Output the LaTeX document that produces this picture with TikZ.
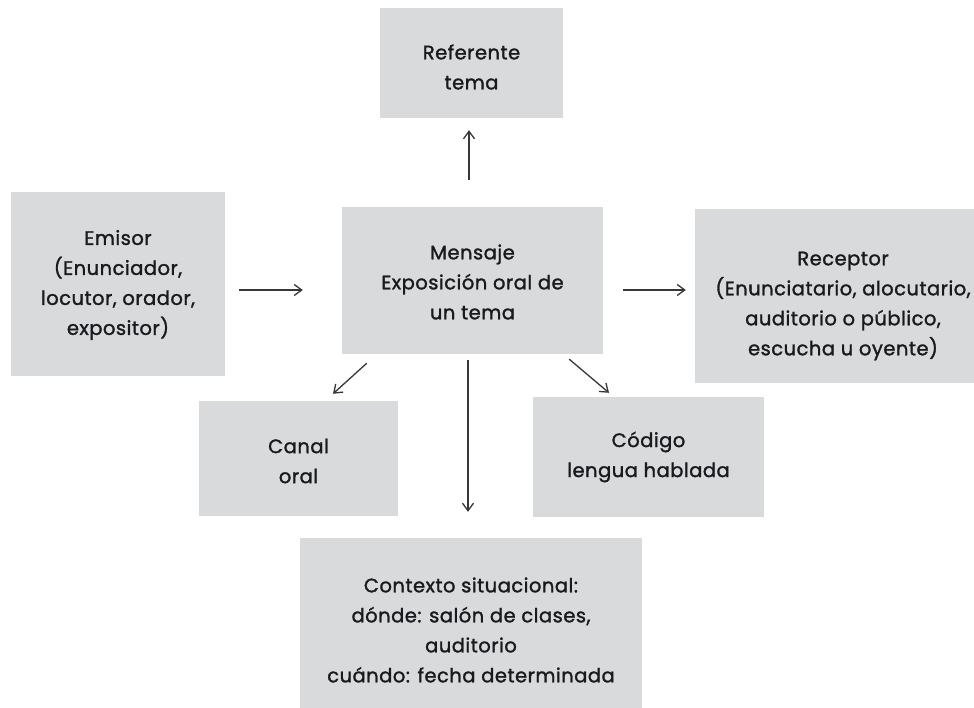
\documentclass[tikz,border=0pt]{standalone}
\usepackage{fontspec}
\setmainfont{Poppins}
\newfontfamily\boxfont{Poppins}[FakeBold=1.4,LetterSpace=2.5]
\usetikzlibrary{arrows.meta,calc}
\definecolor{boxgray}{RGB}{217,218,220}
\definecolor{txt}{RGB}{25,25,30}
\definecolor{arrgray}{RGB}{55,55,55}
\begin{document}
\begin{tikzpicture}[x=1pt,y=-1pt,
  box/.style={fill=boxgray,draw=none,inner sep=0pt},
  lbl/.style={align=center,text=txt,inner sep=0pt,
    font=\boxfont\fontsize{19.5}{30}\selectfont},
  arr/.style={draw=arrgray,line width=1.3pt,-{Straight Barb[length=7.5pt,width=11pt,line width=1.3pt]}}]
\useasboundingbox (0,0) rectangle (974,708);
\clip (0,0) rectangle (974,708);
\fill[white] (0,0) rectangle (974,708);
\node[box,minimum width=183pt,minimum height=110pt] (ref) at (471.5,63) {};
\node[box,minimum width=214pt,minimum height=184pt] (emi) at (118,284) {};
\node[box,minimum width=261pt,minimum height=147pt] (men) at (472.5,280.5) {};
\node[box,minimum width=296pt,minimum height=174pt] (rec) at (843,296) {};
\node[box,minimum width=199pt,minimum height=115pt] (can) at (298.5,458.5) {};
\node[box,minimum width=231pt,minimum height=120pt] (cod) at (648.5,457) {};
\node[box,minimum width=342pt,minimum height=184pt] (ctx) at (471,630) {};
\node[lbl] (reft) at ($(ref.center)+(0,4)$) {Referente\\tema};
\node[lbl] (emit) at ($(emi.center)+(0,1)$) {Emisor\\(Enunciador,\\locutor, orador,\\expositor)};
\node[lbl] (ment) at ($(men.center)+(0,1.5)$) {Mensaje\\Exposición oral de\\un tema};
\node[lbl] (rect) at ($(rec.center)+(0,10)$) {Receptor\\(Enunciatario, alocutario,\\auditorio o público,\\escucha u oyente)};
\node[lbl] (cant) at ($(can.center)+(0,2.5)$) {Canal\\oral};
\node[lbl] (codt) at ($(cod.center)+(0,0)$) {Código\\lengua hablada};
\node[lbl] (ctxt) at ($(ctx.center)+(0,0)$) {Contexto situacional:\\dónde: salón de clases,\\auditorio\\cuándo: fecha determinada};
\draw[arr] ($(men.north)+(-3.5,-27)$) -- ($(ref.south)+(-2.5,12)$);
\draw[arr] ($(emi.east)+(14,6)$) -- ($(men.west)+(-39,9.5)$);
\draw[arr] ($(men.east)+(20,9.5)$) -- ($(rec.west)+(-9,-6)$);
\draw[arr] ($(men.south west)+(25,9)$) -- ($(can.north)+(34.5,-7)$);
\draw[arr] ($(men.south)+(-4.5,6)$) -- ($(ctx.north)+(-3,-26)$);
\draw[arr] ($(men.south east)+(-34,5)$) -- ($(cod.north)+(-39.5,-4)$);
\end{tikzpicture}
\end{document}
